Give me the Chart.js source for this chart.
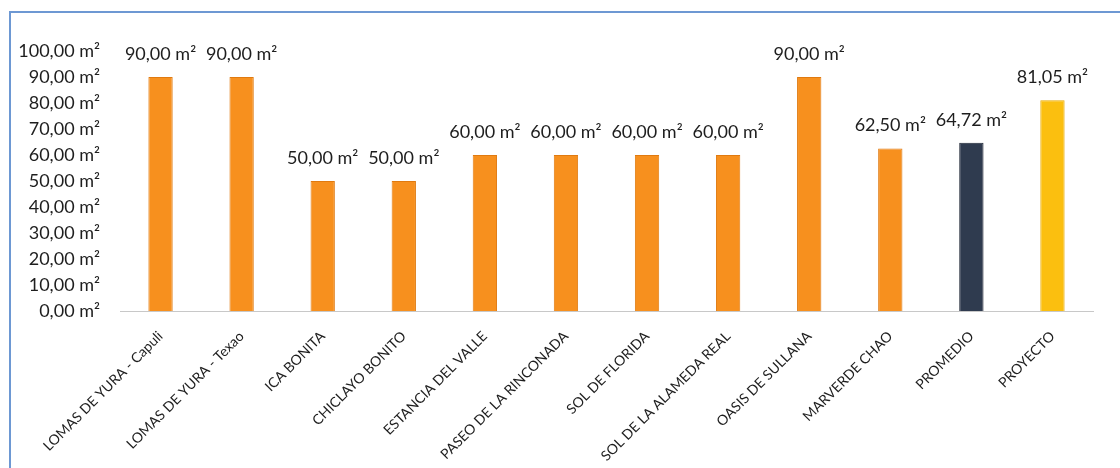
<!DOCTYPE html>
<html>
<head>
<meta charset="utf-8">
<script src="https://cdn.jsdelivr.net/npm/chart.js@4"></script>
<style>
  html, body { margin: 0; padding: 0; background: #fff; overflow: hidden; }
  #frame { position: absolute; left: 9px; top: 11px; width: 1200px; height: 600px; border: 2px solid #6d98d3; }
  #wrap { position: absolute; left: 0; top: 0; width: 1120px; height: 468px; }
</style>
</head>
<body>
<div id="frame"></div>
<div id="wrap"><canvas id="myChart" width="1120" height="468"></canvas></div>
<script>
// data
const categories = [
  "LOMAS DE YURA - Capuli", "LOMAS DE YURA - Texao", "ICA BONITA", "CHICLAYO BONITO",
  "ESTANCIA DEL VALLE", "PASEO DE LA RINCONADA", "SOL DE FLORIDA", "SOL DE LA ALAMEDA REAL",
  "OASIS DE SULLANA", "MARVERDE CHAO", "PROMEDIO", "PROYECTO"
];
const areas = [90, 90, 50, 50, 60, 60, 60, 60, 90, 62.5, 64.72, 81.05];
const barColors = ["#f7901e", "#f7901e", "#f7901e", "#f7901e", "#f7901e", "#f7901e",
  "#f7901e", "#f7901e", "#f7901e", "#f7901e", "#2f3b4f", "#fbbf0f"];
const edgeColors = ["#e07a10", "#e07a10", "#e07a10", "#e07a10", "#e07a10", "#e07a10",
  "#e07a10", "#e07a10", "#e07a10", "#e07a10", "#1c2533", "#e8ab00"];

const fmt = (v) => v.toFixed(2).replace(".", ",") + " m²";
const FONT = "Lato, 'Open Sans', sans-serif";

// value labels above bars
const valueLabels = {
  id: "valueLabels",
  afterDatasetsDraw(chart) {
    const ctx = chart.ctx;
    const meta = chart.getDatasetMeta(0);
    ctx.save();
    ctx.font = "18px " + FONT;
    ctx.fillStyle = "#1e1e1e";
    ctx.textAlign = "center";
    ctx.textBaseline = "middle";
    meta.data.forEach((bar, i) => {
      ctx.fillText(fmt(areas[i]), bar.x, bar.y - 23);
    });
    ctx.restore();
  },
};

const config = {
  type: "bar",
  data: {
    labels: categories,
    datasets: [
      {
        data: areas,
        backgroundColor: barColors,
        borderColor: edgeColors,
        borderWidth: 1,
        categoryPercentage: 1,
        barPercentage: 0.3,
      },
    ],
  },
  options: {
    responsive: false,
    animation: false,
    layout: { padding: { top: 51, right: 27, left: 10, bottom: 0 } },
    plugins: { legend: { display: false }, tooltip: { enabled: false } },
    scales: {
      y: {
        min: 0,
        max: 100,
        ticks: {
          stepSize: 10,
          color: "#1e1e1e",
          font: { family: FONT, size: 18 },
          padding: 12,
          callback: (v) => fmt(v),
        },
        grid: { display: false },
        border: { display: false },
        afterFit: (s) => { s.width = 110; },
      },
      x: {
        ticks: {
          color: "#1e1e1e",
          font: { family: FONT, size: 14 },
          minRotation: 45,
          maxRotation: 45,
          padding: 9,
        },
        grid: { display: false },
        border: { color: "#c8c8c8" },
        afterFit: (s) => { s.height = 157; },
      },
    },
  },
  plugins: [valueLabels],
};

const myChart = new Chart(document.getElementById("myChart"), config);
</script>
</body>
</html>
